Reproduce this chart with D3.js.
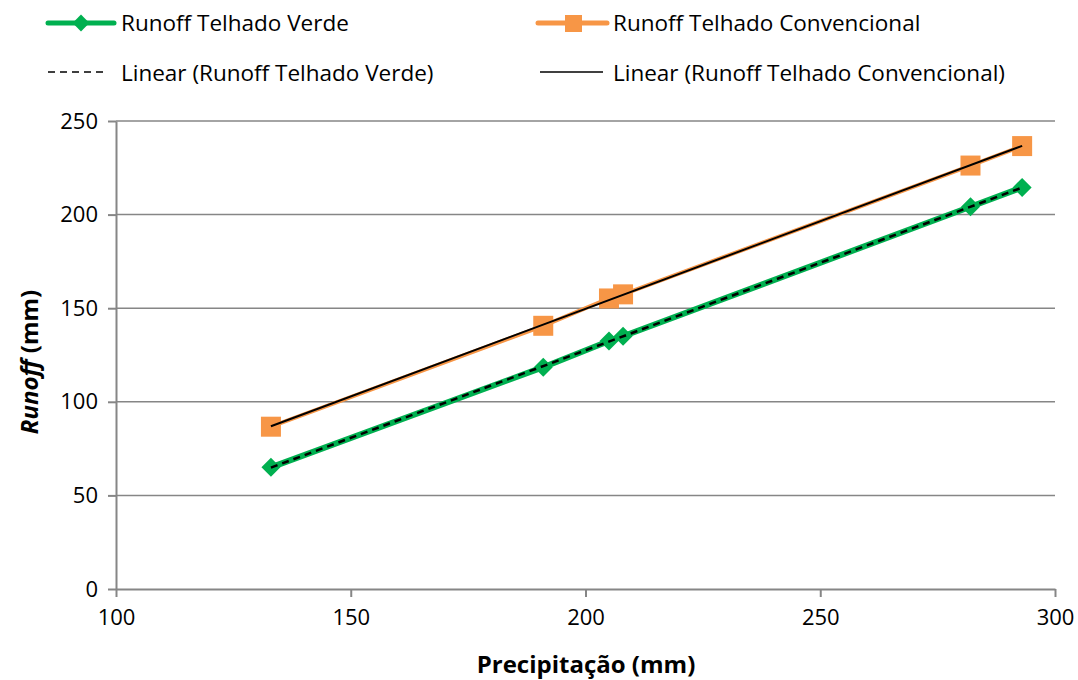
<!DOCTYPE html>
<html>
<head>
<meta charset="UTF-8" />
<script src="https://d3js.org/d3.v7.min.js"></script>
<style>
body { margin: 0; background: #fff; }
text { font-family: "Open Sans", "Noto Sans", sans-serif; fill: #000; }
</style>
</head>
<body>
<script>
// data
var precip = [133, 191, 205, 208, 282, 293];
var runoffVerde = [65, 118.5, 132.5, 135, 204.2, 214.5];
var runoffConv = [86.7, 140.6, 155.2, 157.4, 226.2, 236.6];
var xTicks = [100, 150, 200, 250, 300];
var yTicks = [0, 50, 100, 150, 200, 250];

var W = 1078, H = 680;
var plotL = 116, plotR = 1055, plotT = 121, plotB = 589;

var svg = d3.select("body").append("svg")
    .attr("width", W).attr("height", H);

var x = d3.scaleLinear().domain([100, 300]).range([plotL, plotR]);
var y = d3.scaleLinear().domain([0, 250]).range([plotB, plotT]);

// gridlines
svg.append("g").selectAll("line")
    .data(yTicks.slice(1))
    .enter().append("line")
    .attr("x1", plotL).attr("x2", plotR)
    .attr("y1", function(d) { return y(d); })
    .attr("y2", function(d) { return y(d); })
    .attr("stroke", "#868686").attr("stroke-width", 1.5);

// axes
var yAxis = svg.append("g")
    .attr("transform", "translate(" + plotL + ",0)")
    .call(d3.axisLeft(y).tickValues(yTicks).tickSize(8).tickSizeOuter(0).tickPadding(10));
var xAxis = svg.append("g")
    .attr("transform", "translate(0," + plotB + ")")
    .call(d3.axisBottom(x).tickValues(xTicks).tickSize(8).tickSizeOuter(0).tickPadding(12));

[xAxis, yAxis].forEach(function(a) {
  a.select(".domain").attr("stroke", "#868686").attr("stroke-width", 2);
  a.selectAll(".tick line").attr("stroke", "#868686").attr("stroke-width", 2);
  a.selectAll(".tick text").style("font-size", "22px").style("font-family", "'Open Sans', sans-serif");
});

// linear regression for trendlines
function fit(xs, ys) {
  var mx = d3.mean(xs), my = d3.mean(ys);
  var num = d3.sum(xs, function(v, i) { return (v - mx) * (ys[i] - my); });
  var den = d3.sum(xs, function(v) { return (v - mx) * (v - mx); });
  var b = num / den;
  return function(v) { return my + b * (v - mx); };
}
var fv = fit(precip, runoffVerde), fc = fit(precip, runoffConv);
var xEnds = [d3.min(precip), d3.max(precip)];

var line = d3.line()
    .x(function(d) { return x(d[0]); })
    .y(function(d) { return y(d[1]); });

var verde = precip.map(function(p, i) { return [p, runoffVerde[i]]; });
var conv = precip.map(function(p, i) { return [p, runoffConv[i]]; });

var green = "#00b050", orange = "#f79646";

// series lines
svg.append("path").datum(conv).attr("d", line)
    .attr("fill", "none").attr("stroke", orange).attr("stroke-width", 4);
svg.append("path").datum(verde).attr("d", line)
    .attr("fill", "none").attr("stroke", green).attr("stroke-width", 6);

// markers
svg.append("g").selectAll("rect").data(conv).enter().append("rect")
    .attr("x", function(d) { return x(d[0]) - 10; })
    .attr("y", function(d) { return y(d[1]) - 10; })
    .attr("width", 20).attr("height", 20)
    .attr("fill", orange);
var diamond = d3.symbol().type(d3.symbolDiamond2).size(230);
svg.append("g").selectAll("path").data(verde).enter().append("path")
    .attr("d", diamond)
    .attr("transform", function(d) { return "translate(" + x(d[0]) + "," + y(d[1]) + ")"; })
    .attr("fill", green);

// trendlines
svg.append("path").datum(xEnds.map(function(v) { return [v, fc(v)]; })).attr("d", line)
    .attr("fill", "none").attr("stroke", "#000").attr("stroke-width", 2);
svg.append("path").datum(xEnds.map(function(v) { return [v, fv(v)]; })).attr("d", line)
    .attr("fill", "none").attr("stroke", "#000").attr("stroke-width", 2.5)
    .attr("stroke-dasharray", "7,5");

// legend
var leg = svg.append("g").style("font-size", "22.5px");
leg.append("line").attr("x1", 48).attr("x2", 114).attr("y1", 23).attr("y2", 23)
    .attr("stroke", green).attr("stroke-width", 5).attr("stroke-linecap", "round");
leg.append("path").attr("d", d3.symbol().type(d3.symbolDiamond2).size(180))
    .attr("transform", "translate(81,23)").attr("fill", green);
leg.append("text").attr("x", 121).attr("y", 31).text("Runoff Telhado Verde");

leg.append("line").attr("x1", 538).attr("x2", 607).attr("y1", 23).attr("y2", 23)
    .attr("stroke", orange).attr("stroke-width", 5).attr("stroke-linecap", "round");
leg.append("rect").attr("x", 565).attr("y", 15).attr("width", 17).attr("height", 17).attr("fill", orange);
leg.append("text").attr("x", 613).attr("y", 31).text("Runoff Telhado Convencional");

leg.append("line").attr("x1", 48).attr("x2", 108).attr("y1", 72).attr("y2", 72)
    .attr("stroke", "#000").attr("stroke-width", 1.5).attr("stroke-dasharray", "7,5");
leg.append("text").attr("x", 121).attr("y", 81).text("Linear (Runoff Telhado Verde)");

leg.append("line").attr("x1", 540).attr("x2", 603).attr("y1", 72).attr("y2", 72)
    .attr("stroke", "#000").attr("stroke-width", 1.5);
leg.append("text").attr("x", 613).attr("y", 81).text("Linear (Runoff Telhado Convencional)");

// axis titles
svg.append("text")
    .attr("x", 586).attr("y", 673)
    .attr("text-anchor", "middle")
    .style("font-size", "24px").style("font-weight", "bold")
    .text("Precipitação (mm)");

var yt = svg.append("text")
    .attr("transform", "translate(38," + 362 + ") rotate(-90)")
    .attr("text-anchor", "middle")
    .style("font-size", "24px").style("font-weight", "bold");
yt.append("tspan").style("font-style", "italic").text("Runoff");
yt.append("tspan").text(" (mm)");
</script>
</body>
</html>
